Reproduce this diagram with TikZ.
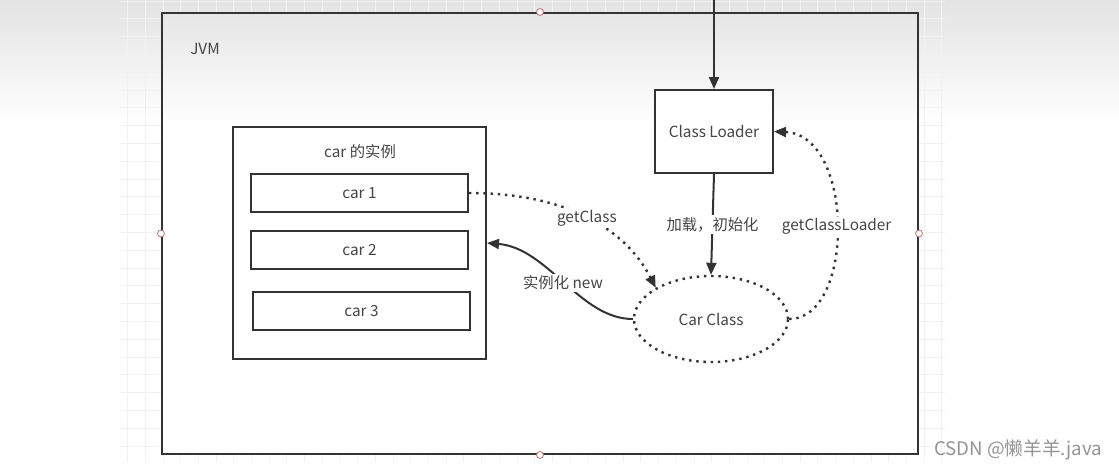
\documentclass[tikz,border=0pt]{standalone}
\usepackage{fontspec}
\setmainfont{Noto Sans CJK SC}
\usetikzlibrary{arrows.meta,shapes.geometric}

\definecolor{linegray}{HTML}{333333}
\definecolor{textgray}{HTML}{454545}
\definecolor{gridgray}{HTML}{F1F1F1}
\definecolor{handlered}{HTML}{C07070}

\tikzset{
  box/.style={draw=linegray, line width=1.5pt, text=textgray, inner sep=0pt},
  carbox/.style={box, fill=white, minimum width=162.75pt, minimum height=28.5pt},
  solidline/.style={draw=linegray, line width=1.5pt},
  dots/.style={draw=linegray, line width=1.8pt, dash pattern=on 1.8pt off 3.6pt},
  tip/.style={-{Triangle[length=9pt,width=7.5pt]}},
  lbl/.style={text=textgray, fill=white, inner sep=1.5pt},
  handle/.style={draw=handlered, fill=white, line width=0.6pt}
}

\begin{document}
\begin{tikzpicture}[x=0.75pt,y=-0.75pt,font=\fontsize{11.5}{13}\selectfont]
\useasboundingbox (0,0) rectangle (1119,469);

\fill[white] (0,0) rectangle (1119,469);
\shade[top color=black!11, bottom color=white] (0,0) rectangle (1119,125);
\foreach \gx in {127.5,145.2,...,945} \draw[gridgray, line width=0.6pt] (\gx,0) -- (\gx,462);
\foreach \gy in {1,18.8,...,462} \draw[gridgray, line width=0.6pt] (120,\gy) -- (945,\gy);
\shade[top color=black!10, bottom color=white] (162,13) rectangle (918,125);
\fill[white] (162,125) rectangle (918,454);

\node[box, minimum width=567pt, minimum height=330.75pt] (jvm) at (540,233.5) {};
\foreach \p in {north,south,east,west} \draw[handle] (jvm.\p) circle (2.6pt);

\node[text=textgray] (jvmname) at (205,49) {JVM};

\node[box, fill=white, minimum width=88.5pt, minimum height=62.25pt] (loader) at (714,131.5) {Class Loader};

\node[box, minimum width=189.75pt, minimum height=174pt] (inst) at (359.5,243) {};
\node[text=textgray] (insttitle) at (360,152) {car 的实例};

\node[carbox] (car1) at (359.5,193) {car 1};
\node[carbox] (car2) at (359.5,250) {car 2};
\node[carbox] (car3) at (361.5,311) {car 3};

\node[ellipse, dots, text=textgray, inner sep=0pt, minimum width=115.5pt, minimum height=64.5pt] (carclass) at (711,319) {Car Class};

\coordinate (src) at (714,0);

\draw[solidline, tip] (src) -- (loader.north);
\draw[solidline, tip] (loader.south) -- node[lbl]{加载，初始化} (carclass.north);
\draw[dots, tip] (car1.east) .. controls (565,193) and (625,228) .. node[lbl]{getClass} (carclass.north west);
\draw[solidline, tip] (carclass.west) .. controls (580,319) and (548,248) .. node[lbl]{实例化 new} (inst.east);
\draw[dots, tip] (carclass.east) .. controls (855,319) and (855,135) .. node[lbl]{getClassLoader} (loader.east);

\node[text=black!42, font=\fontsize{14}{16}\selectfont] (mark) at (1018,450) {CSDN @懒羊羊.java};

\end{tikzpicture}
\end{document}
